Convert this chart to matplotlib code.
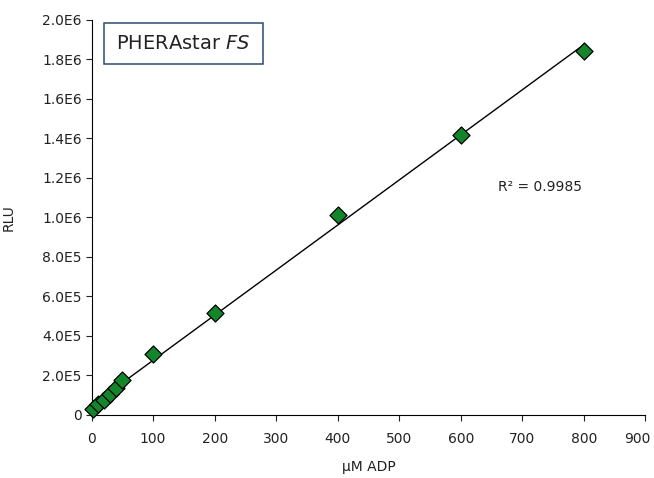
import numpy as np
import matplotlib
matplotlib.use("Agg")
import matplotlib.pyplot as plt
import matplotlib.transforms as mtransforms
from matplotlib.patches import Rectangle

adp = [2, 10, 20, 30, 40, 50, 100, 200, 400, 600, 800]
rlu = [3.0e4, 5.5e4, 7.5e4, 1.05e5, 1.35e5, 1.76e5, 3.1e5, 5.15e5, 1.015e6, 1.417e6, 1.844e6]
xticks = [0, 100, 200, 300, 400, 500, 600, 700, 800, 900]
yticks = [0, 2e5, 4e5, 6e5, 8e5, 1e6, 1.2e6, 1.4e6, 1.6e6, 1.8e6, 2.0e6]
ylabels = ["0", "2.0E5", "4.0E5", "6.0E5", "8.0E5", "1.0E6", "1.2E6", "1.4E6", "1.6E6", "1.8E6", "2.0E6"]

plt.rcParams['font.family'] = ['DejaVu Sans']

fig = plt.figure(figsize=(6.54, 4.78), dpi=100)
ax = fig.add_axes([0.140, 0.1318, 0.847, 0.8264])

slope, icpt = np.polyfit(adp, rlu, 1)
xs = np.array([0, max(adp)])
ax.plot(xs, slope * xs + icpt, color='black', lw=1, zorder=2)
ax.scatter(adp, rlu, marker='D', s=75, facecolor='#13862b', edgecolor='black', linewidth=0.9, zorder=3, clip_on=False)

ax.set_xlim(0, 900)
ax.set_ylim(0, 2.0e6)
ax.set_xticks(xticks)
ax.set_xticklabels([str(t) for t in xticks])
ax.set_yticks(yticks)
ax.set_yticklabels(ylabels)
for s in ['top', 'right']:
    ax.spines[s].set_visible(False)
ax.tick_params(axis='both', labelsize=10, direction='out', length=4, width=0.8, colors='#222222')
ax.tick_params(axis='x', pad=8)
ax.tick_params(axis='y', pad=3)
ax.set_xlabel('µM ADP', fontsize=10, labelpad=10, color='#222222')
ax.set_ylabel('RLU', fontsize=10, labelpad=19, color='#222222')

# keep the last x tick label inside the figure
last = ax.get_xticklabels()[-1]
last.set_transform(last.get_transform() + mtransforms.ScaledTranslation(-8 / 100, 0, fig.dpi_scale_trans))

ax.text(728, 1.154e6, 'R² = 0.9985', fontsize=10, ha='center', va='center', color='#222222')

ax.add_patch(Rectangle((0.0217, 0.889), 0.2873, 0.103, transform=ax.transAxes,
                       facecolor='white', edgecolor='#2b4a72', linewidth=1.1, zorder=4))
ax.text(0.165, 0.941, 'PHERAstar $\\it{FS}$', transform=ax.transAxes, fontsize=14,
        ha='center', va='center', color='#222222', zorder=5)

fig.savefig('out.png', dpi=100)
